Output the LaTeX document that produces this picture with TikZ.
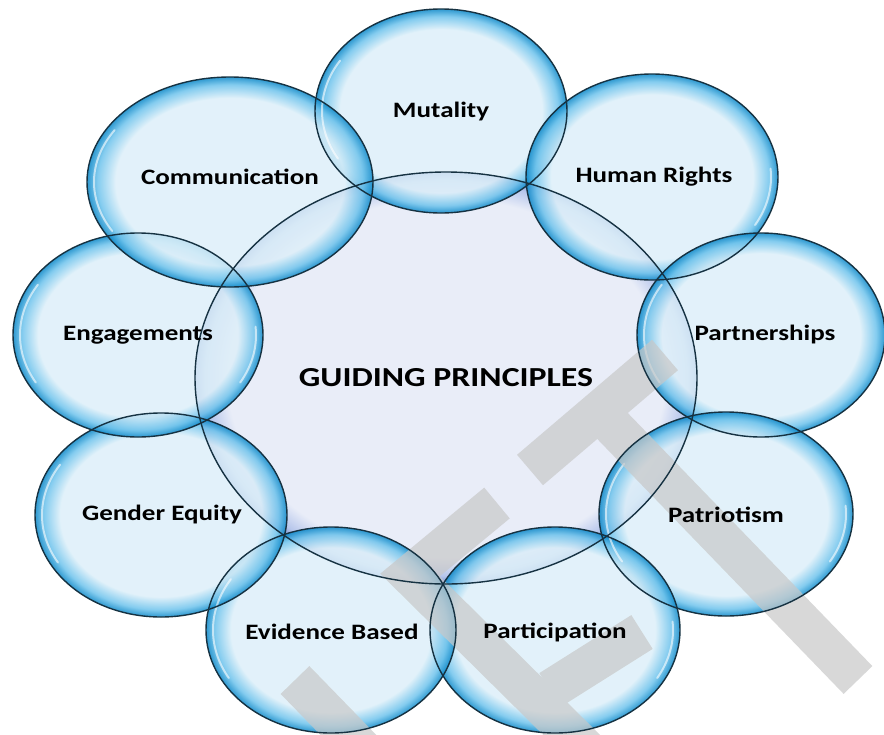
\documentclass[tikz,border=0pt]{standalone}
\usepackage{fontspec}
\setmainfont{Carlito}[FakeStretch=1.23]
\definecolor{bubin}{RGB}{221,239,249}
\definecolor{bubmid}{RGB}{110,195,236}
\definecolor{bubrim}{RGB}{10,135,200}
\definecolor{hubin}{RGB}{229,234,247}
\definecolor{hubmid}{RGB}{170,188,232}
\definecolor{hubrim}{RGB}{90,120,198}
\definecolor{rimline}{RGB}{22,50,66}
\definecolor{wmark}{RGB}{200,200,200}
\pgfdeclareradialshading{bubble}{\pgfpoint{0bp}{0bp}}{color(0bp)=(bubin); color(20bp)=(bubin); color(23.2bp)=(bubmid); color(25bp)=(bubrim); color(50bp)=(bubrim)}
\pgfdeclareradialshading{hub}{\pgfpoint{0bp}{0bp}}{color(0bp)=(hubin); color(21.8bp)=(hubin); color(24bp)=(hubmid); color(25bp)=(hubrim); color(50bp)=(hubrim)}
\begin{document}
\begin{tikzpicture}[x=1pt,y=-1pt,
    bub/.style={shading=bubble, fill opacity=0.85},
    hubshade/.style={shading=hub, fill opacity=0.85},
    rim/.style={draw=rimline, line width=1.4pt},
    gloss/.style={white, line width=2pt, opacity=0.6, line cap=round},
    watermark/.style={wmark, line width=40pt, line cap=butt, line join=miter},
    lbl/.style={font=\fontsize{22}{26}\selectfont\bfseries, text=black},
    hublbl/.style={font=\fontsize{27.5}{32}\selectfont\bfseries, text=black}]
    \useasboundingbox (0,0) rectangle (884,734);
    % bubble fills
    \shade[hubshade] (446,378) ellipse [x radius=251, y radius=206];
    \shade[bub] (441,111) ellipse [x radius=126, y radius=102];
    \shade[bub] (652,177) ellipse [x radius=126, y radius=103];
    \shade[bub] (761,335) ellipse [x radius=124, y radius=102];
    \shade[bub] (726,514) ellipse [x radius=127, y radius=102];
    \shade[bub] (555,630) ellipse [x radius=125, y radius=103];
    \shade[bub] (331,630) ellipse [x radius=125, y radius=103];
    \shade[bub] (161,515) ellipse [x radius=126, y radius=102];
    \shade[bub] (138,335) ellipse [x radius=125, y radius=102];
    \shade[bub] (230,182) ellipse [x radius=143, y radius=105];
    % gloss
    \draw[gloss] (441,111) ++(150:119 and 95) arc[start angle=150, end angle=212, x radius=119, y radius=95];
    \draw[gloss] (652,177) ++(-5:119 and 96) arc[start angle=-5, end angle=30, x radius=119, y radius=96];
    \draw[gloss] (761,335) ++(150:117 and 95) arc[start angle=150, end angle=212, x radius=117, y radius=95];
    \draw[gloss] (726,514) ++(150:120 and 95) arc[start angle=150, end angle=212, x radius=120, y radius=95];
    \draw[gloss] (726,514) ++(-5:120 and 95) arc[start angle=-5, end angle=30, x radius=120, y radius=95];
    \draw[gloss] (555,630) ++(-5:118 and 96) arc[start angle=-5, end angle=30, x radius=118, y radius=96];
    \draw[gloss] (331,630) ++(150:118 and 96) arc[start angle=150, end angle=212, x radius=118, y radius=96];
    \draw[gloss] (161,515) ++(150:119 and 95) arc[start angle=150, end angle=212, x radius=119, y radius=95];
    \draw[gloss] (138,335) ++(150:118 and 95) arc[start angle=150, end angle=212, x radius=118, y radius=95];
    \draw[gloss] (138,335) ++(-5:118 and 95) arc[start angle=-5, end angle=30, x radius=118, y radius=95];
    \draw[gloss] (230,182) ++(150:136 and 98) arc[start angle=150, end angle=212, x radius=136, y radius=98];
    % watermark
    \begin{scope}[transparency group, opacity=0.7]
        \draw[watermark] (530,470) -- (665,355);
        \draw[watermark] (600,413) -- (858,680);
        \draw[watermark] (497,503) -- (410,575) -- (595,758);
        \draw[watermark] (550,690) -- (642,632);
        \draw[watermark] (295,680) -- (365,752);
    \end{scope}
    % outlines
    \draw[rim] (446,378) ellipse [x radius=251, y radius=206];
    \draw[rim] (441,111) ellipse [x radius=126, y radius=102];
    \draw[rim] (652,177) ellipse [x radius=126, y radius=103];
    \draw[rim] (761,335) ellipse [x radius=124, y radius=102];
    \draw[rim] (726,514) ellipse [x radius=127, y radius=102];
    \draw[rim] (555,630) ellipse [x radius=125, y radius=103];
    \draw[rim] (331,630) ellipse [x radius=125, y radius=103];
    \draw[rim] (161,515) ellipse [x radius=126, y radius=102];
    \draw[rim] (138,335) ellipse [x radius=125, y radius=102];
    \draw[rim] (230,182) ellipse [x radius=143, y radius=105];
    % labels
    \node[hublbl] (hub) at (446,378) {GUIDING PRINCIPLES};
    \node[lbl] (mutality) at (441,112) {Mutality};
    \node[lbl] (rights) at (654,177) {Human Rights};
    \node[lbl] (partner) at (765,335) {Partnerships};
    \node[lbl] (patriot) at (726,515) {Patriotism};
    \node[lbl] (particip) at (555,632) {Participation};
    \node[lbl] (evidence) at (332,632) {Evidence Based};
    \node[lbl] (gender) at (162,515) {Gender Equity};
    \node[lbl] (engage) at (138,335) {Engagements};
    \node[lbl] (commun) at (230,177) {Communication};
\end{tikzpicture}
\end{document}
